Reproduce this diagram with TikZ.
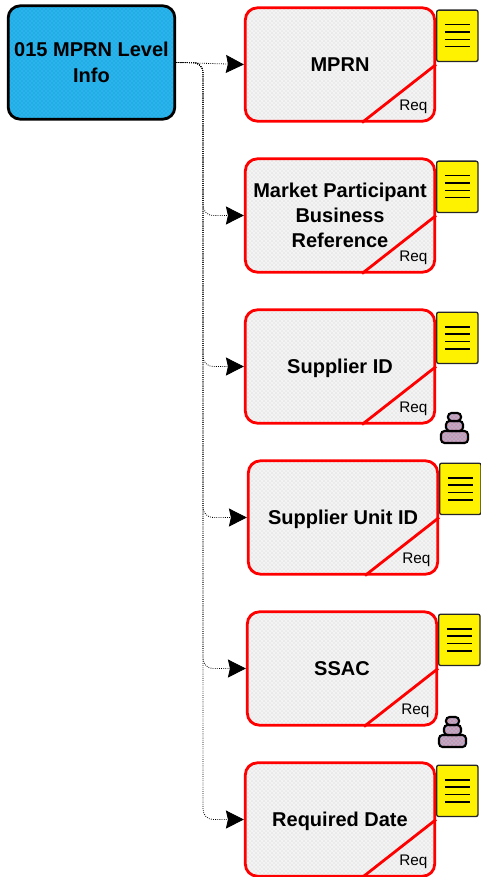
\documentclass[tikz,border=0pt]{standalone}
\usepackage{fontspec}
\setmainfont{Liberation Sans}
\usetikzlibrary{arrows.meta,patterns}
\definecolor{rootblue}{HTML}{1FAEE8}
\definecolor{rootdots}{HTML}{5CC6F0}
\definecolor{boxgrey}{HTML}{F5F5F5}
\definecolor{boxhatch}{HTML}{E9E9E9}
\definecolor{stoneblue}{HTML}{8FBEF0}
\tikzset{
  rootbox/.style={draw=black, line width=2.1pt, rounded corners=9pt, preaction={fill=rootblue},
    pattern=crosshatch dots, pattern color=rootdots, minimum width=125pt, minimum height=85pt,
    align=center, font=\fontsize{15}{19}\selectfont\bfseries},
  elembox/.style={draw=red, line width=2.1pt, rounded corners=9pt, preaction={fill=boxgrey},
    pattern=crosshatch, pattern color=boxhatch, minimum width=142pt, minimum height=85pt,
    align=center, text depth=0pt, font=\fontsize{15}{18.75}\selectfont\bfseries},
  notebox/.style={draw=black!85, line width=1pt, rounded corners=1.5pt, fill=yellow,
    minimum width=31pt, minimum height=38.5pt},
  reqtext/.style={font=\fontsize{11.5}{13}\selectfont, inner sep=0pt},
  link/.style={densely dotted, line width=0.6pt, rounded corners=7.5pt,
    -{Stealth[length=13.5pt, width=13.5pt, inset=1.5pt]}},
  stone/.style={draw=black, line width=1.6pt, rounded corners=2.7pt, preaction={fill=stoneblue},
    pattern=crosshatch, pattern color=red!50},
}
\begin{document}
\begin{tikzpicture}[x=0.75pt, y=-0.75pt]
  \useasboundingbox (0, 0) rectangle (481, 877);
  \node[rootbox] (root) at (91.5, 62.5) {015 MPRN Level\\Info};
  \coordinate (trunk) at (203, 400);

  \node[elembox] (mprn) at (340, 64.5) {MPRN};
  \node[elembox] (ref) at (340, 215.5) {Market Participant\\Business\\Reference};
  \node[elembox] (supplier) at (340, 366.5) {Supplier ID};
  \node[elembox] (unit) at (343, 517.5) {Supplier Unit ID};
  \node[elembox] (ssac) at (342, 668.5) {SSAC};
  \node[elembox] (date) at (340, 819.5) {Required Date};

  \draw[link] (root.east) -- (mprn.west);
  \foreach \n in {ref, supplier, unit, ssac, date}{
    \draw[link] (root.east) -- (root.east -| trunk) -- (trunk |- \n.west) -- (\n.west);
  }

  \foreach \n in {mprn, ref, supplier, unit, ssac, date}{
    \draw[draw=red, line width=2.1pt] (\n.east) -- ([xshift=16.5pt]\n.south);
    \node[reqtext] (\n req) at ([xshift=55pt, yshift=-31.5pt]\n.center) {Req};
    \node[notebox] (\n note) at ([xshift=88pt, yshift=21.5pt]\n.center) {};
    \foreach \d in {-11, -3.7, 3.7, 11}{
      \draw[line width=1pt] ([xshift=-9.5pt, yshift=\d*0.75pt]\n note.center) -- ([xshift=9.5pt, yshift=\d*0.75pt]\n note.center);
    }
  }

  % stones
  \foreach \x/\y in {454.5/428, 452.5/732}{
    \draw[stone] (\x-13.5, \y+3) rectangle (\x+13.5, \y+15);
    \draw[stone] (\x-8.5, \y-7) rectangle (\x+8.5, \y+3);
    \draw[stone] (\x-6.5, \y-15) rectangle (\x+6.5, \y-7);
  }
\end{tikzpicture}
\end{document}
